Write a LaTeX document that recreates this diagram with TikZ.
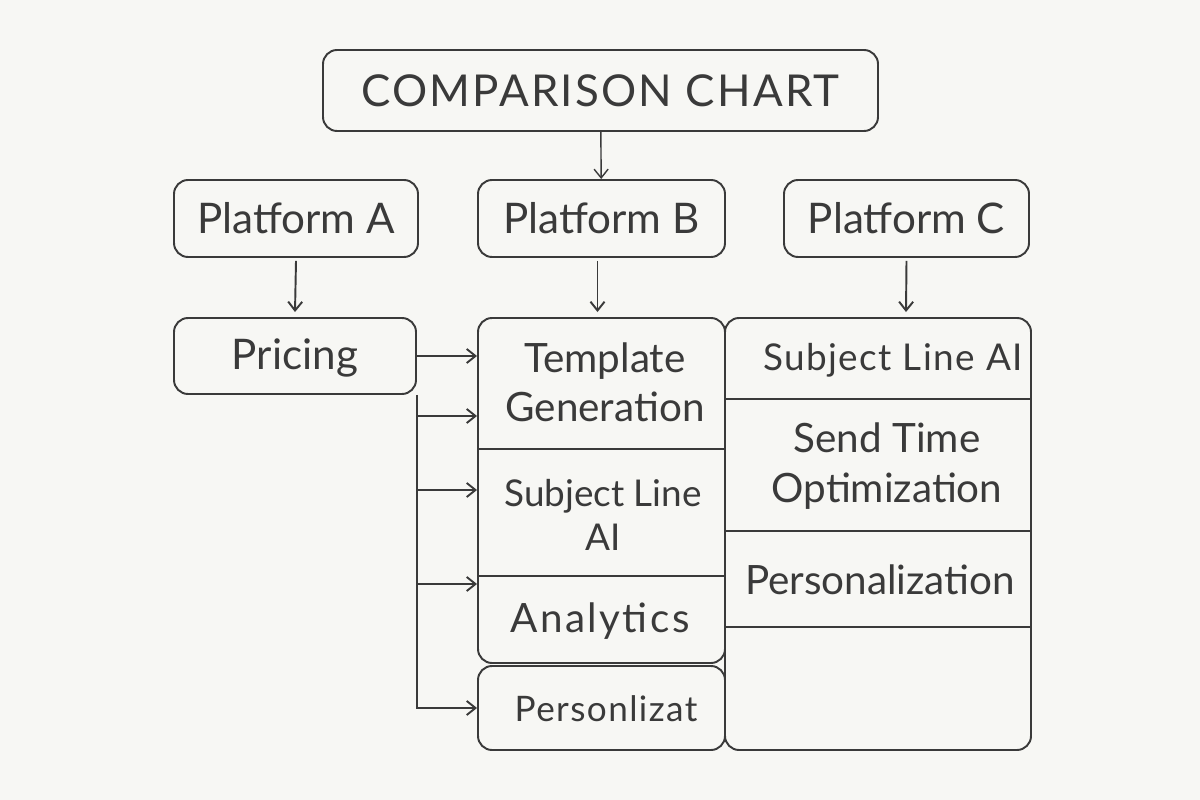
\documentclass[tikz,border=0pt]{standalone}
\usepackage{fontspec}
\setmainfont{Lato}
\usetikzlibrary{positioning,arrows.meta,calc}
\definecolor{ink}{HTML}{3A3A3A}
\definecolor{paper}{HTML}{F7F7F4}
\tikzset{every picture/.style={>={Straight Barb[length=5pt,width=8pt]},line width=1.1pt}}
\tikzset{box/.style={draw=ink,rounded corners=8pt,text=ink,align=center,inner sep=0pt}}
\tikzset{cell/.style={text=ink,align=center,inner sep=0pt,font=\fontsize{23}{28}\selectfont}}
\tikzset{rule/.style={draw=ink,line width=0.9pt}}

\begin{document}
\begin{tikzpicture}[x=0.02cm,y=-0.02cm]
      \fill[paper] (0,0) rectangle (1200,800);
      \useasboundingbox (0,0) rectangle (1200,800);
      % header and platforms
      \node[box,minimum width=555*0.02cm,minimum height=81*0.02cm,
            font=\fontsize{25}{30}\selectfont\addfontfeature{LetterSpace=5}] (title) at (600.5,90.5) {COMPARISON CHART};
      \node[box,minimum width=244*0.02cm,minimum height=77*0.02cm,font=\fontsize{24}{28}\selectfont] (platA) at (296,218.5) {Platform A};
      \node[box,minimum width=247*0.02cm,minimum height=77*0.02cm,font=\fontsize{24}{28}\selectfont] (platB) at (601.5,218.5) {Platform B};
      \node[box,minimum width=245*0.02cm,minimum height=77*0.02cm,font=\fontsize{24}{28}\selectfont] (platC) at (906.5,218.5) {Platform C};
      \node[box,minimum width=242*0.02cm,minimum height=76*0.02cm,font=\fontsize{24}{28}\selectfont] (pricing) at (295,356) {};
      \node[cell,font=\fontsize{24}{28}\selectfont] (pricingt) at (295,358) {Pricing};
      % columns
      \node[box,minimum width=306*0.02cm,minimum height=432*0.02cm] (colC) at (878,534) {};
      \node[box,fill=paper,minimum width=247*0.02cm,minimum height=345*0.02cm] (colB) at (601.5,490.5) {};
      \node[box,fill=paper,minimum width=247*0.02cm,minimum height=84*0.02cm] (persB) at (601.5,708) {};
      % dividers
      \draw[rule] (colB.west |- 0,449) -- (colB.east |- 0,449);
      \draw[rule] (colB.west |- 0,576) -- (colB.east |- 0,576);
      \draw[rule] (colB.east |- 0,399) -- (colC.east |- 0,399);
      \draw[rule] (colB.east |- 0,531) -- (colC.east |- 0,531);
      \draw[rule] (colB.east |- 0,627) -- (colC.east |- 0,627);
      % cell texts
      \node[cell] (tmplB) at (605,382) {Template\\Generation};
      \node[cell,font=\fontsize{21}{25}\selectfont] (subjB) at (603,515) {Subject Line\\AI};
      \node[cell,font=\fontsize{23}{28}\selectfont\addfontfeature{LetterSpace=6}] (anaB) at (600,621) {Analytics};
      \node[cell,font=\fontsize{20}{24}\selectfont\addfontfeature{LetterSpace=4}] (persBt) at (606,709) {Personlizat};
      \node[cell,font=\fontsize{21}{25}\selectfont\addfontfeature{LetterSpace=4}] (subjC) at (893,360) {Subject Line AI};
      \node[cell] (sendC) at (887,466) {Send Time\\Optimization};
      \node[cell] (persC) at (880,580) {Personalization};
      % connectors
      \draw[ink,->,line width=0.8pt] (title) -- (platB);
      \draw[ink,->] ($(platA.south)+(0,3)$) -- ($(pricing.north)+(0,-5)$);
      \draw[ink,->] ($(platB.south)+(-4,3)$) -- ($(colB.north)+(-4,-5)$);
      \draw[ink,->] ($(platC.south)+(0,3)$) -- ($(colC.north)+(28,-5)$);
      \draw[ink,->] (pricing.east) -- (pricing.east -| colB.west);
      \coordinate (trunk) at (pricing.south east);
      \draw[ink,->] (trunk) -- (trunk |- persB.west) -- (persB.west);
      \foreach \yy in {416,490,584} {
        \draw[ink,->] (trunk |- 0,\yy) -- (colB.west |- 0,\yy);
      }
\end{tikzpicture}
\end{document}
